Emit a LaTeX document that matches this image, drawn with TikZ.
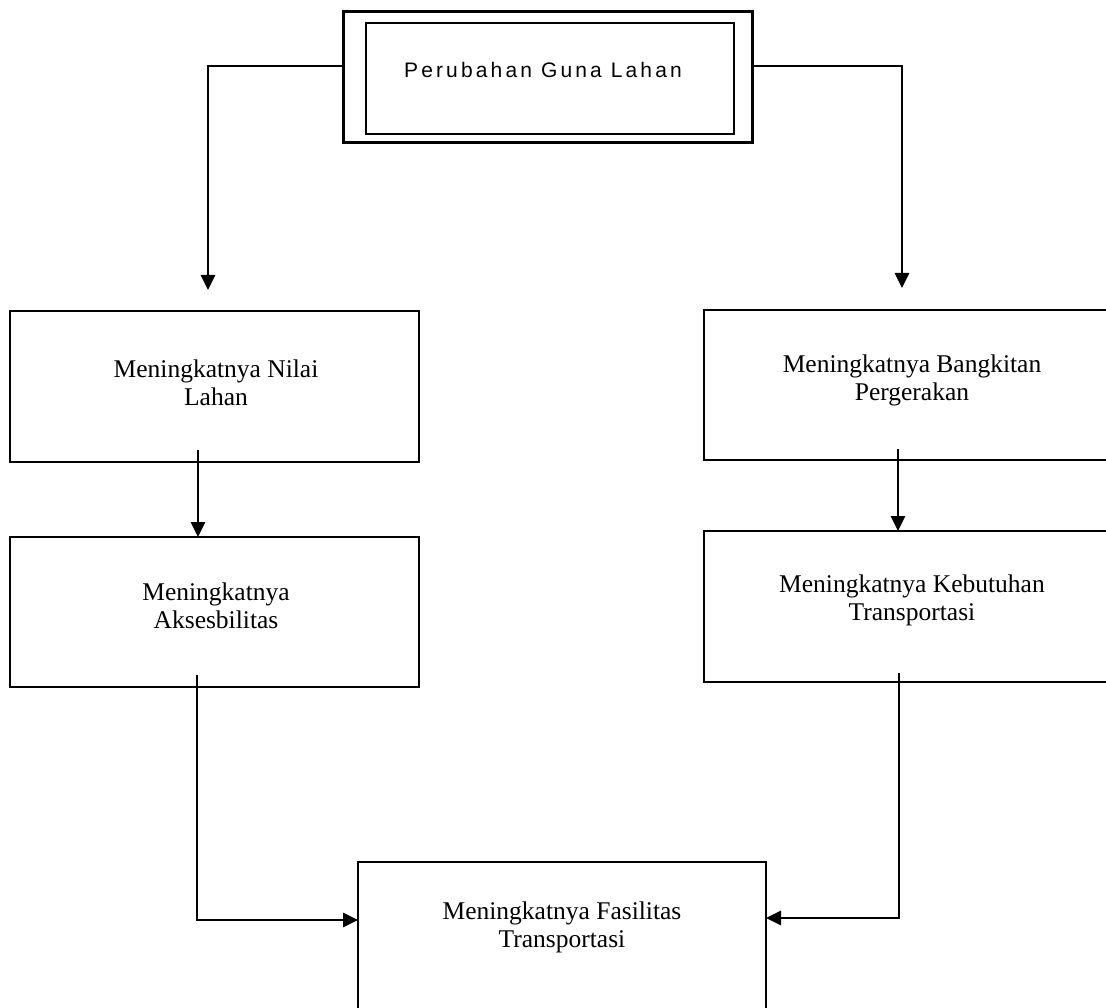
\documentclass[tikz,border=0pt]{standalone}
\usepackage{fontspec}
\setmainfont{Liberation Serif}
\newfontfamily\headsans[LetterSpace=15]{Liberation Sans}
\usetikzlibrary{arrows.meta,calc}

\begin{document}
\begin{tikzpicture}[x=1pt,y=-1pt,
  box/.style={draw, line width=2.6pt, rectangle, anchor=north west,
              inner sep=0pt, outer sep=0pt},
  lbl/.style={align=center, font=\fontsize{25.5}{28}\selectfont, inner sep=0pt},
  flow/.style={line width=2.7pt, -{Triangle[width=14pt,length=15pt]}}
  ]
\clip (0,0) rectangle (1106,1008);
\fill[white] (0,0) rectangle (1106,1008);

% double-framed title box
\node[box, line width=3pt, minimum width=409pt, minimum height=131pt] (top) at (343,12) {};
\node[box, line width=2.4pt, minimum width=368pt, minimum height=111pt] (topin) at (366,23) {};
\node[anchor=base, inner sep=0pt, font=\headsans\fontsize{21}{24}\selectfont] (toptext) at (543,78) {Perubahan Guna Lahan};

% left column
\node[box, minimum width=409pt, minimum height=151pt] (b1) at (10,311) {};
\node[box, minimum width=409pt, minimum height=150pt] (b2) at (10,537) {};
% right column
\node[box, minimum width=416pt, minimum height=150pt] (b3) at (704,310) {};
\node[box, minimum width=416pt, minimum height=151pt] (b4) at (704,531) {};
% bottom box
\node[box, minimum width=408pt, minimum height=300pt] (bot) at (358,862) {};

% labels
\node[lbl] (t1) at (216,383) {Meningkatnya Nilai\\Lahan};
\node[lbl] (t2) at (216,606) {Meningkatnya\\Aksesbilitas};
\node[lbl] (t3) at (912,380) {Meningkatnya Bangkitan\\Pergerakan};
\node[lbl] (t4) at (912,600) {Meningkatnya Kebutuhan\\Transportasi};
\node[lbl] (t5) at (562,927) {Meningkatnya Fasilitas\\Transportasi};

% connector corners and starts
\coordinate (tl) at (208,66);
\coordinate (tr) at (902,66);
\coordinate (a1) at (198,450);
\coordinate (a3) at (898,449);
\coordinate (a2) at (197,675);
\coordinate (a2e) at (197,920);
\coordinate (a4) at (899,673);
\coordinate (a4e) at (899,918);

% connectors
\draw[flow] (top.west |- tl) -- (tl) -- ($(tl |- b1.north)+(0,-21)$);
\draw[flow] (top.east |- tr) -- (tr) -- ($(tr |- b3.north)+(0,-22)$);
\draw[flow] (a1) -- (a1 |- b2.north);
\draw[flow] (a3) -- (a3 |- b4.north);
\draw[flow] (a2) -- (a2e) -- (a2e -| bot.west);
\draw[flow] (a4) -- (a4e) -- (a4e -| bot.east);
\end{tikzpicture}
\end{document}
